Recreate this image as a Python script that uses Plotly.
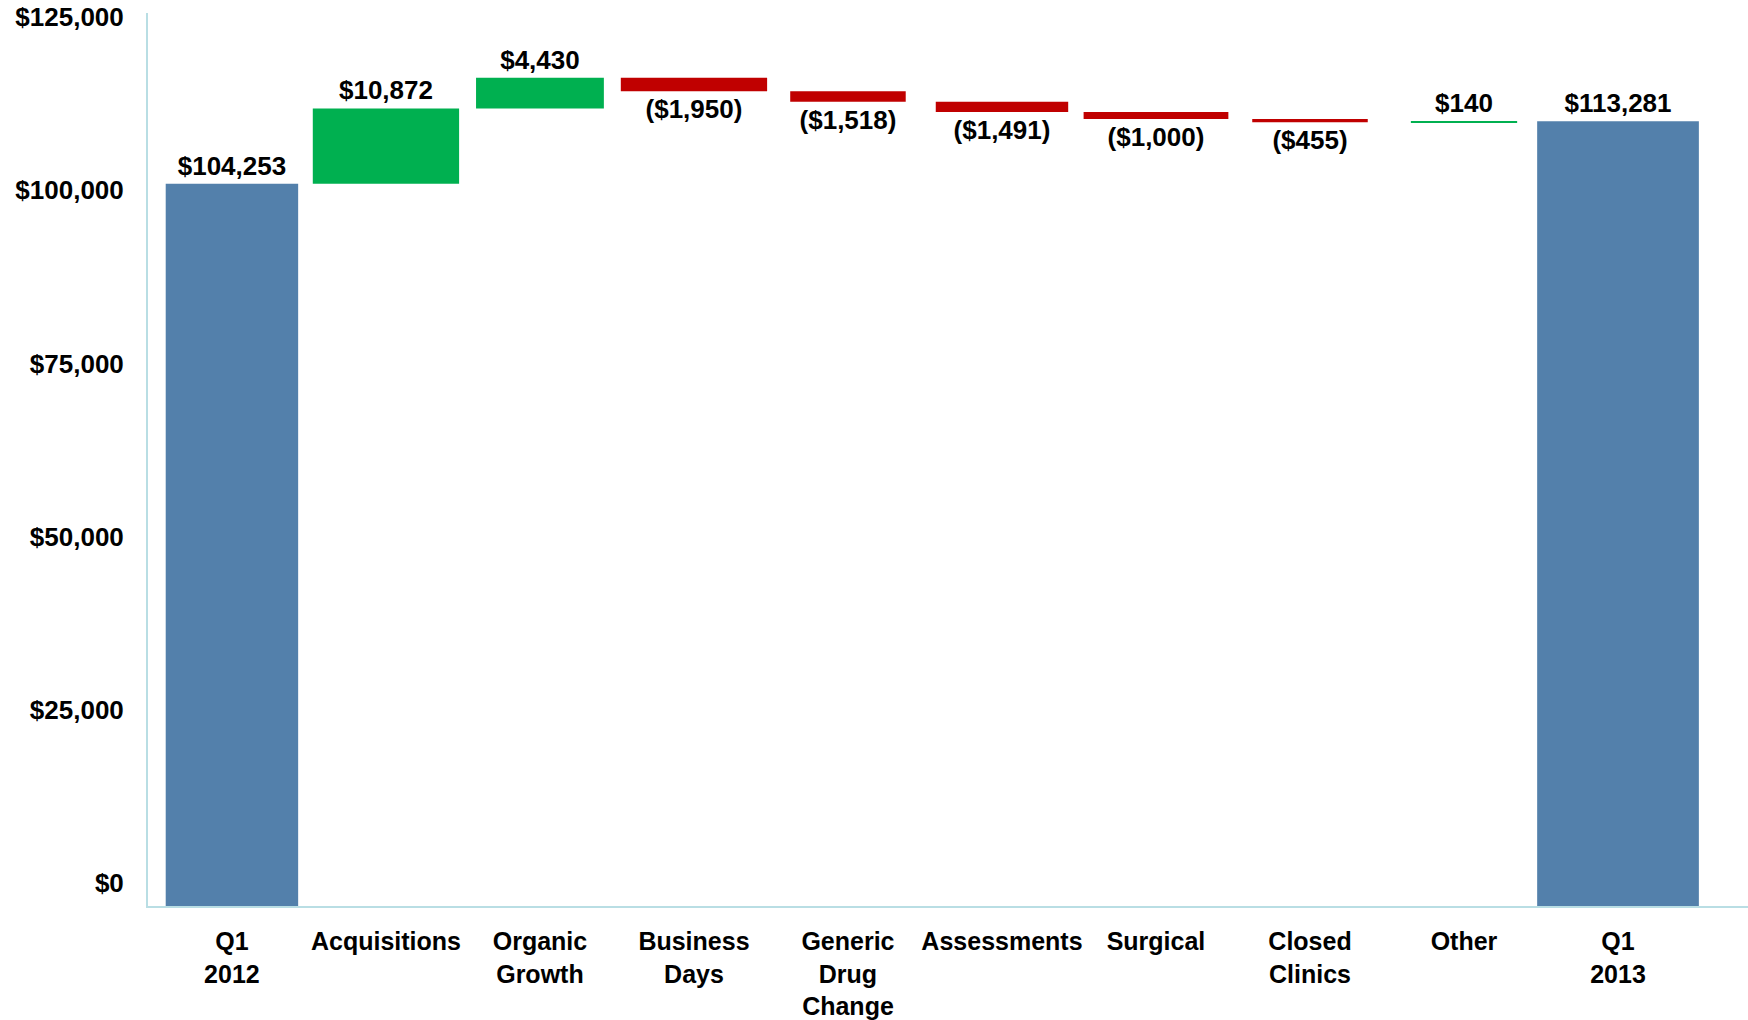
import plotly.graph_objects as go

# Quarterly revenue bridge, Q1 2012 to Q1 2013 (in $ thousands)
categories = ["Q1<br>2012", "Acquisitions", "Organic<br>Growth", "Business<br>Days",
              "Generic<br>Drug<br>Change", "Assessments", "Surgical", "Closed<br>Clinics",
              "Other", "Q1<br>2013"]
measures = ["absolute", "relative", "relative", "relative", "relative",
            "relative", "relative", "relative", "relative", "total"]
changes = [104253, 10872, 4430, -1950, -1518, -1491, -1000, -455, 140, 0]
ending_total = 113281

y_tick_values = [0, 25000, 50000, 75000, 100000, 125000]
y_tick_labels = ["$0", "$25,000", "$50,000", "$75,000", "$100,000", "$125,000"]

# bar widths as a share of the category step
bar_widths = [0.86, 0.95, 0.83, 0.95, 0.75, 0.86, 0.94, 0.75, 0.69, 1.05]


def money(v):
    return f"(${-v:,})" if v < 0 else f"${v:,}"


labels = [money(ending_total if m == "total" else v) for m, v in zip(measures, changes)]

BLUE = "#5380AB"
GREEN = "#00B050"
RED = "#C00000"
AXIS = "#B9DEE4"
FONT = "Liberation Sans, Arial, sans-serif"

fig = go.Figure(go.Waterfall(
    x=categories,
    y=changes,
    measure=measures,
    text=labels,
    textposition="outside",
    textfont=dict(family=FONT, size=26, color="black", weight="bold"),
    width=bar_widths,
    connector=dict(visible=False),
    increasing=dict(marker=dict(color=GREEN)),
    decreasing=dict(marker=dict(color=RED)),
    totals=dict(marker=dict(color=BLUE)),
    cliponaxis=False,
))

fig.update_layout(
    width=1748, height=1020,
    paper_bgcolor="white", plot_bgcolor="white",
    margin=dict(l=148, r=0, t=13, b=110),
    showlegend=False,
    font=dict(family=FONT, color="black"),
    xaxis=dict(
        type="category",
        range=[-0.545, 9.844],
        showline=True, linecolor=AXIS, linewidth=2,
        showgrid=False, ticks="",
        ticklabelstandoff=12,
        tickfont=dict(family=FONT, size=25, color="black", weight="bold"),
    ),
    yaxis=dict(
        range=[0, 128900],
        tickvals=y_tick_values, ticktext=y_tick_labels,
        showline=True, linecolor=AXIS, linewidth=2,
        showgrid=False, zeroline=False, ticks="",
        ticklabelshift=-23, ticklabelstandoff=17,
        tickfont=dict(family=FONT, size=26, color="black", weight="bold"),
    ),
)

fig.write_html("out.html")
